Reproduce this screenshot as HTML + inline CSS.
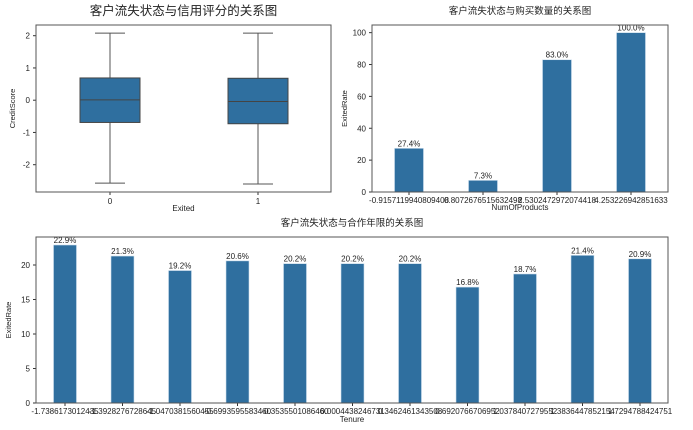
<!DOCTYPE html>
<html><head><meta charset="utf-8"><style>
html,body{margin:0;padding:0;background:#fff;}
svg{display:block;font-family:"Liberation Sans","Noto Sans CJK SC",sans-serif;}
</style></head><body>
<svg id="c" width="693" height="430" viewBox="0 0 693 430"></svg>
<script>
// ---- data ----
const boxCategories = ["0", "1"];
const boxQ1 = [-0.69, -0.73];
const boxQ3 = [0.69, 0.68];
const boxMedian = [0.01, -0.04];
const boxLow = [-2.57, -2.60];
const boxHigh = [2.08, 2.08];
const boxYTicks = [-2, -1, 0, 1, 2];

const prodCategories = ["-0.9157119940809408", "0.8072676515632498", "2.5302472972074418", "4.253226942851633"];
const prodValues = [27.4, 7.3, 83.0, 100.0];
const prodYTicks = [0, 20, 40, 60, 80, 100];

const tenureCategories = ["-1.7386173012435", "-1.3928276728645", "-1.0470381560455", "-0.6993595583460", "-0.3535501086460", "0.0004438246731", "0.3462461343508", "0.6920766706952", "1.0378407279552", "1.3836447852154", "1.7294788424751"];
const tenureValues = [22.9, 21.3, 19.2, 20.6, 20.2, 20.2, 20.2, 16.8, 18.7, 21.4, 20.9];
const tenureYTicks = [0, 5, 10, 15, 20];

const svg = document.getElementById('c');
const NS = 'http://www.w3.org/2000/svg';
function el(tag, attrs, parent) {
  const e = document.createElementNS(NS, tag);
  for (const k in attrs) e.setAttribute(k, attrs[k]);
  (parent || svg).appendChild(e);
  return e;
}
function txt(s, attrs, parent) { const t = el('text', attrs, parent); t.textContent = s; return t; }
const BLUE = '#2f6f9f', TXT = '#222';

// ---- Box plot ----
(function(){
  const L=36,R=331,T=25,B=192;
  const y = v => 100.2 - v*32.25;
  const xc = i => 110 + i*148;
  const g = el('g', {});
  
  
  const t = txt('客户流失状态与信用评分的关系图', {x:(L+R)/2, y:15, 'text-anchor':'middle', 'font-size':12.5, fill:TXT}, g);
  
  
  boxYTicks.forEach(v => {
    el('line', {x1:L-3, x2:L, y1:y(v), y2:y(v), stroke:'#333'}, g);
    const lb = txt(String(v).replace('-', '-'), {x:L-6, y:y(v)+3, 'text-anchor':'end', 'font-size':8, fill:TXT}, g);
    
    
  });
  boxCategories.forEach((c,i) => {
    const x = xc(i), w = 60;
    const bx = el('g', {}, g);
    
    
    el('line', {x1:x, x2:x, y1:y(boxHigh[i]), y2:y(boxQ3[i]), stroke:'#555', 'stroke-width':1}, bx);
    el('line', {x1:x, x2:x, y1:y(boxQ1[i]), y2:y(boxLow[i]), stroke:'#555', 'stroke-width':1}, bx);
    el('line', {x1:x-15, x2:x+15, y1:y(boxHigh[i]), y2:y(boxHigh[i]), stroke:'#555'}, bx);
    el('line', {x1:x-15, x2:x+15, y1:y(boxLow[i]), y2:y(boxLow[i]), stroke:'#555'}, bx);
    el('rect', {x:x-w/2, y:y(boxQ3[i]), width:w, height:y(boxQ1[i])-y(boxQ3[i]), fill:BLUE, stroke:'#444'}, bx);
    el('line', {x1:x-w/2, x2:x+w/2, y1:y(boxMedian[i]), y2:y(boxMedian[i]), stroke:'#444'}, bx);
    el('line', {x1:x, x2:x, y1:B, y2:B+3, stroke:'#333'}, g);
    const lb = txt(c, {x:x, y:B+12, 'text-anchor':'middle', 'font-size':8, fill:TXT}, g);
    
    
  });
  el('rect', {x:L, y:T, width:R-L, height:B-T, fill:'none', stroke:'#555'}, g);
  const xl = txt('Exited', {x:(L+R)/2, y:211, 'text-anchor':'middle', 'font-size':8, fill:TXT}, g);
  
  
  const yl = txt('CreditScore', {x:0, y:0, transform:`translate(15,${(T+B)/2}) rotate(-90)`, 'text-anchor':'middle', 'font-size':7.5, fill:TXT}, g);
  
  
})();

// ---- bar panel helper ----
function barPanel(o){
  const {L,R,T,B,cats,vals,ticks,ymax,x0,dx,bw,title,titleY,xTitle,xTitleY,yTitle,name} = o;
  const y = v => B - v/ymax*(B-T);
  const g = el('g', {});
  
  
  const t = txt(title, {x:(L+R)/2, y:titleY, 'text-anchor':'middle', 'font-size':9.5, fill:TXT}, g);
  
  
  ticks.forEach(v => {
    el('line', {x1:L-3, x2:L, y1:y(v), y2:y(v), stroke:'#333'}, g);
    const lb = txt(String(v), {x:L-6, y:y(v)+3, 'text-anchor':'end', 'font-size':8, fill:TXT}, g);
    
    
  });
  cats.forEach((c,i) => {
    const x = x0 + i*dx, v = vals[i];
    const r = el('rect', {x:x-bw/2, y:y(v), width:bw, height:B-y(v), fill:BLUE, stroke:'#cfe0ee', 'stroke-width':0.6}, g);
    
    
    const vl = txt(v.toFixed(1) + '%', {x:x, y:y(v)-2, 'text-anchor':'middle', 'font-size':8, fill:TXT}, g);
    
    
    el('line', {x1:x, x2:x, y1:B, y2:B+3, stroke:'#333'}, g);
    const lb = txt(c, {x:x, y:B+11, 'text-anchor':'middle', 'font-size':8, fill:TXT}, g);
    
    
  });
  el('rect', {x:L, y:T, width:R-L, height:B-T, fill:'none', stroke:'#555'}, g);
  const xl = txt(xTitle, {x:(L+R)/2, y:xTitleY, 'text-anchor':'middle', 'font-size':8, fill:TXT}, g);
  
  
  const yl = txt(yTitle, {x:0, y:0, transform:`translate(${L-25},${(T+B)/2}) rotate(-90)`, 'text-anchor':'middle', 'font-size':7.5, fill:TXT}, g);
  
  
}

barPanel({L:372,R:668,T:25,B:192,cats:prodCategories,vals:prodValues,ticks:prodYTicks,ymax:104.8,
  x0:409,dx:74,bw:29,title:'客户流失状态与购买数量的关系图',titleY:14,xTitle:'NumOfProducts',xTitleY:210,
  yTitle:'ExitedRate',name:'products-bar-panel'});

barPanel({L:36,R:668,T:237,B:403,cats:tenureCategories,vals:tenureValues,ticks:tenureYTicks,ymax:24.06,
  x0:65,dx:57.5,bw:23,title:'客户流失状态与合作年限的关系图',titleY:226,xTitle:'Tenure',xTitleY:422,
  yTitle:'ExitedRate',name:'tenure-bar-panel'});
</script>
</body></html>
